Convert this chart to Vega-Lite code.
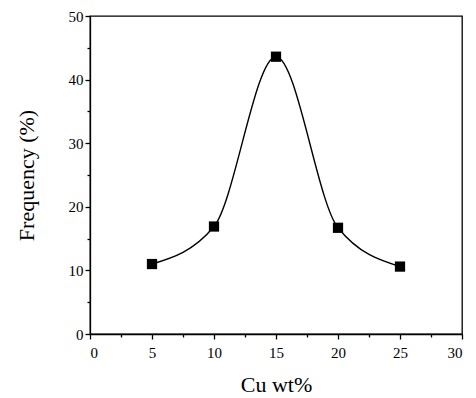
{
  "$schema": "https://vega.github.io/schema/vega-lite/v6.json",
  "width": 372,
  "height": 318,
  "autosize": {"type": "none"},
  "padding": {"left": 90, "top": 16, "right": 14, "bottom": 64},
  "background": "white",
  "config": {
    "view": {"stroke": "black", "strokeWidth": 1.3},
    "font": "Liberation Serif",
    "axis": {
      "domainColor": "black",
      "domainWidth": 1.3,
      "tickColor": "black",
      "tickWidth": 1.3,
      "tickSize": 5,
      "labelColor": "black",
      "labelFont": "Liberation Serif",
      "labelFontSize": 15,
      "titleFont": "Liberation Serif",
      "titleFontSize": 22,
      "titleFontWeight": "normal",
      "titleColor": "black",
      "grid": false
    }
  },
  "data": {
    "values": [
      {"cu": 5, "freq": 11.0},
      {"cu": 10, "freq": 16.9},
      {"cu": 15, "freq": 43.6},
      {"cu": 20, "freq": 16.7},
      {"cu": 25, "freq": 10.6}
    ]
  },
  "layer": [
    {
      "mark": {"type": "point", "opacity": 0},
      "encoding": {
        "x": {"field": "cu", "type": "quantitative", "scale": {"domain": [0, 30], "nice": false},
          "axis": {"orient": "bottom", "values": [2.5, 7.5, 12.5, 17.5, 22.5, 27.5], "labels": false, "domain": false, "tickSize": 3, "title": null}},
        "y": {"field": "freq", "type": "quantitative", "scale": {"domain": [0, 50], "nice": false},
          "axis": {"orient": "left", "values": [5, 15, 25, 35, 45], "labels": false, "domain": false, "tickSize": 3, "title": null}}
      }
    },
    {
      "mark": {"type": "line", "interpolate": "monotone", "color": "black", "strokeWidth": 1.4},
      "encoding": {
        "x": {
          "field": "cu", "type": "quantitative",
          "scale": {"domain": [0, 30], "nice": false},
          "axis": {"orient": "bottom", "values": [0, 5, 10, 15, 20, 25, 30], "title": "Cu wt%", "titlePadding": 14, "labelPadding": 6}
        },
        "y": {
          "field": "freq", "type": "quantitative",
          "scale": {"domain": [0, 50], "nice": false},
          "axis": {"orient": "left", "values": [0, 10, 20, 30, 40, 50], "title": "Frequency (%)", "titlePadding": 30, "labelPadding": 2}
        }
      }
    },
    {
      "mark": {"type": "square", "color": "black", "filled": true, "opacity": 1, "size": 105},
      "encoding": {
        "x": {"field": "cu", "type": "quantitative", "scale": {"domain": [0, 30], "nice": false}, "axis": null},
        "y": {"field": "freq", "type": "quantitative", "scale": {"domain": [0, 50], "nice": false}, "axis": null}
      }
    }
  ],
  "resolve": {"axis": {"x": "independent", "y": "independent"}}
}
